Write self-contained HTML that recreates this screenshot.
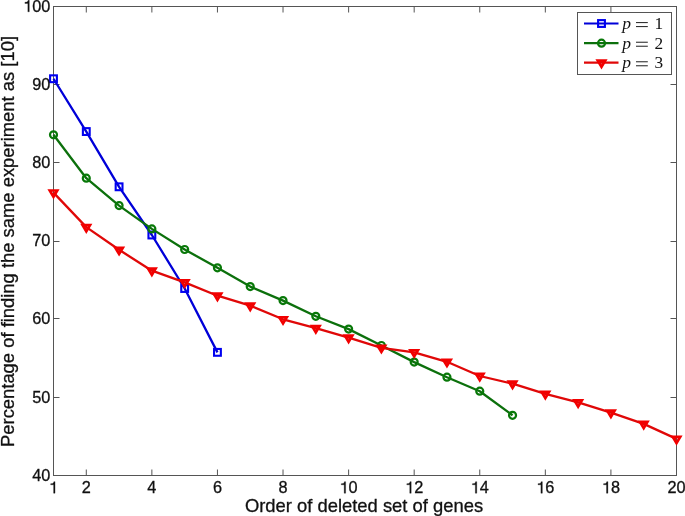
<!DOCTYPE html>
<html><head><meta charset="utf-8"><style>
html,body{margin:0;padding:0;background:#fff;}
svg{display:block;will-change:transform;}
text{font-family:"Liberation Sans",sans-serif;fill:#111;stroke:#111;stroke-width:0.3px;}
</style></head><body>
<svg width="685" height="516" viewBox="0 0 685 516">
<rect width="685" height="516" fill="#fff"/>
<rect x="53.5" y="6.5" width="623" height="469" fill="none" stroke="#555" stroke-width="1"/>
<line x1="53.5" y1="475.5" x2="53.5" y2="469.5" stroke="#555"/>
<line x1="53.5" y1="6.5" x2="53.5" y2="12.5" stroke="#555"/>
<line x1="86.29" y1="475.5" x2="86.29" y2="469.5" stroke="#555"/>
<line x1="86.29" y1="6.5" x2="86.29" y2="12.5" stroke="#555"/>
<line x1="151.87" y1="475.5" x2="151.87" y2="469.5" stroke="#555"/>
<line x1="151.87" y1="6.5" x2="151.87" y2="12.5" stroke="#555"/>
<line x1="217.45" y1="475.5" x2="217.45" y2="469.5" stroke="#555"/>
<line x1="217.45" y1="6.5" x2="217.45" y2="12.5" stroke="#555"/>
<line x1="283.03" y1="475.5" x2="283.03" y2="469.5" stroke="#555"/>
<line x1="283.03" y1="6.5" x2="283.03" y2="12.5" stroke="#555"/>
<line x1="348.61" y1="475.5" x2="348.61" y2="469.5" stroke="#555"/>
<line x1="348.61" y1="6.5" x2="348.61" y2="12.5" stroke="#555"/>
<line x1="414.18" y1="475.5" x2="414.18" y2="469.5" stroke="#555"/>
<line x1="414.18" y1="6.5" x2="414.18" y2="12.5" stroke="#555"/>
<line x1="479.76" y1="475.5" x2="479.76" y2="469.5" stroke="#555"/>
<line x1="479.76" y1="6.5" x2="479.76" y2="12.5" stroke="#555"/>
<line x1="545.34" y1="475.5" x2="545.34" y2="469.5" stroke="#555"/>
<line x1="545.34" y1="6.5" x2="545.34" y2="12.5" stroke="#555"/>
<line x1="610.92" y1="475.5" x2="610.92" y2="469.5" stroke="#555"/>
<line x1="610.92" y1="6.5" x2="610.92" y2="12.5" stroke="#555"/>
<line x1="676.5" y1="475.5" x2="676.5" y2="469.5" stroke="#555"/>
<line x1="676.5" y1="6.5" x2="676.5" y2="12.5" stroke="#555"/>
<line x1="53.5" y1="475.5" x2="59.5" y2="475.5" stroke="#555"/>
<line x1="676.5" y1="475.5" x2="670.5" y2="475.5" stroke="#555"/>
<line x1="53.5" y1="397.5" x2="59.5" y2="397.5" stroke="#555"/>
<line x1="676.5" y1="397.5" x2="670.5" y2="397.5" stroke="#555"/>
<line x1="53.5" y1="318.5" x2="59.5" y2="318.5" stroke="#555"/>
<line x1="676.5" y1="318.5" x2="670.5" y2="318.5" stroke="#555"/>
<line x1="53.5" y1="241.5" x2="59.5" y2="241.5" stroke="#555"/>
<line x1="676.5" y1="241.5" x2="670.5" y2="241.5" stroke="#555"/>
<line x1="53.5" y1="162.5" x2="59.5" y2="162.5" stroke="#555"/>
<line x1="676.5" y1="162.5" x2="670.5" y2="162.5" stroke="#555"/>
<line x1="53.5" y1="84.5" x2="59.5" y2="84.5" stroke="#555"/>
<line x1="676.5" y1="84.5" x2="670.5" y2="84.5" stroke="#555"/>
<line x1="53.5" y1="6.5" x2="59.5" y2="6.5" stroke="#555"/>
<line x1="676.5" y1="6.5" x2="670.5" y2="6.5" stroke="#555"/>
<polyline points="53.5,78.75 86.29,131.55 119.08,186.8 151.87,235 184.66,288.5 217.45,352.35" fill="none" stroke="#0000d8" stroke-width="2.3" stroke-linejoin="round"/>
<rect x="50.1" y="75.35" width="6.8" height="6.8" fill="none" stroke="#0000f0" stroke-width="2.1"/>
<rect x="82.89" y="128.15" width="6.8" height="6.8" fill="none" stroke="#0000f0" stroke-width="2.1"/>
<rect x="115.68" y="183.4" width="6.8" height="6.8" fill="none" stroke="#0000f0" stroke-width="2.1"/>
<rect x="148.47" y="231.6" width="6.8" height="6.8" fill="none" stroke="#0000f0" stroke-width="2.1"/>
<rect x="181.26" y="285.1" width="6.8" height="6.8" fill="none" stroke="#0000f0" stroke-width="2.1"/>
<rect x="214.05" y="348.95" width="6.8" height="6.8" fill="none" stroke="#0000f0" stroke-width="2.1"/>
<polyline points="53.5,134.8 86.29,178.2 119.08,205.6 151.87,228.9 184.66,249.5 217.45,267.8 250.24,286.6 283.03,300.6 315.82,316.3 348.61,329.1 381.39,345.5 414.18,362.1 446.97,377.2 479.76,391.2 512.55,415.3" fill="none" stroke="#0c700c" stroke-width="2.3" stroke-linejoin="round"/>
<circle cx="53.5" cy="134.8" r="3.5" fill="none" stroke="#087808" stroke-width="2.2"/>
<circle cx="86.29" cy="178.2" r="3.5" fill="none" stroke="#087808" stroke-width="2.2"/>
<circle cx="119.08" cy="205.6" r="3.5" fill="none" stroke="#087808" stroke-width="2.2"/>
<circle cx="151.87" cy="228.9" r="3.5" fill="none" stroke="#087808" stroke-width="2.2"/>
<circle cx="184.66" cy="249.5" r="3.5" fill="none" stroke="#087808" stroke-width="2.2"/>
<circle cx="217.45" cy="267.8" r="3.5" fill="none" stroke="#087808" stroke-width="2.2"/>
<circle cx="250.24" cy="286.6" r="3.5" fill="none" stroke="#087808" stroke-width="2.2"/>
<circle cx="283.03" cy="300.6" r="3.5" fill="none" stroke="#087808" stroke-width="2.2"/>
<circle cx="315.82" cy="316.3" r="3.5" fill="none" stroke="#087808" stroke-width="2.2"/>
<circle cx="348.61" cy="329.1" r="3.5" fill="none" stroke="#087808" stroke-width="2.2"/>
<circle cx="381.39" cy="345.5" r="3.5" fill="none" stroke="#087808" stroke-width="2.2"/>
<circle cx="414.18" cy="362.1" r="3.5" fill="none" stroke="#087808" stroke-width="2.2"/>
<circle cx="446.97" cy="377.2" r="3.5" fill="none" stroke="#087808" stroke-width="2.2"/>
<circle cx="479.76" cy="391.2" r="3.5" fill="none" stroke="#087808" stroke-width="2.2"/>
<circle cx="512.55" cy="415.3" r="3.5" fill="none" stroke="#087808" stroke-width="2.2"/>
<polyline points="53.5,192.6 86.29,227.1 119.08,249.8 151.87,270.7 184.66,282.4 217.45,295.7 250.24,305.7 283.03,319.3 315.82,328.1 348.61,337.7 381.39,347.8 414.18,352.3 446.97,361.8 479.76,376 512.55,383.7 545.34,393.9 578.13,402.4 610.92,412.7 643.71,423.9 676.5,438.9" fill="none" stroke="#e00808" stroke-width="2.3" stroke-linejoin="round"/>
<path d="M47.4,189.2 L59.6,189.2 L53.5,199.4Z M52.16,191.85 L53.5,194.1 L54.84,191.85Z" fill="#f20000" fill-rule="evenodd"/>
<path d="M80.19,223.7 L92.39,223.7 L86.29,233.9Z M84.95,226.35 L86.29,228.6 L87.63,226.35Z" fill="#f20000" fill-rule="evenodd"/>
<path d="M112.98,246.4 L125.18,246.4 L119.08,256.6Z M117.74,249.05 L119.08,251.3 L120.42,249.05Z" fill="#f20000" fill-rule="evenodd"/>
<path d="M145.77,267.3 L157.97,267.3 L151.87,277.5Z M150.53,269.95 L151.87,272.2 L153.21,269.95Z" fill="#f20000" fill-rule="evenodd"/>
<path d="M178.56,279 L190.76,279 L184.66,289.2Z M183.32,281.65 L184.66,283.9 L186,281.65Z" fill="#f20000" fill-rule="evenodd"/>
<path d="M211.35,292.3 L223.55,292.3 L217.45,302.5Z M216.11,294.95 L217.45,297.2 L218.79,294.95Z" fill="#f20000" fill-rule="evenodd"/>
<path d="M244.14,302.3 L256.34,302.3 L250.24,312.5Z M248.89,304.95 L250.24,307.2 L251.58,304.95Z" fill="#f20000" fill-rule="evenodd"/>
<path d="M276.93,315.9 L289.13,315.9 L283.03,326.1Z M281.68,318.55 L283.03,320.8 L284.37,318.55Z" fill="#f20000" fill-rule="evenodd"/>
<path d="M309.72,324.7 L321.92,324.7 L315.82,334.9Z M314.47,327.35 L315.82,329.6 L317.16,327.35Z" fill="#f20000" fill-rule="evenodd"/>
<path d="M342.51,334.3 L354.71,334.3 L348.61,344.5Z M347.26,336.95 L348.61,339.2 L349.95,336.95Z" fill="#f20000" fill-rule="evenodd"/>
<path d="M375.29,344.4 L387.49,344.4 L381.39,354.6Z M380.05,347.05 L381.39,349.3 L382.74,347.05Z" fill="#f20000" fill-rule="evenodd"/>
<path d="M408.08,348.9 L420.28,348.9 L414.18,359.1Z M412.84,351.55 L414.18,353.8 L415.53,351.55Z" fill="#f20000" fill-rule="evenodd"/>
<path d="M440.87,358.4 L453.07,358.4 L446.97,368.6Z M445.63,361.05 L446.97,363.3 L448.32,361.05Z" fill="#f20000" fill-rule="evenodd"/>
<path d="M473.66,372.6 L485.86,372.6 L479.76,382.8Z M478.42,375.25 L479.76,377.5 L481.11,375.25Z" fill="#f20000" fill-rule="evenodd"/>
<path d="M506.45,380.3 L518.65,380.3 L512.55,390.5Z M511.21,382.95 L512.55,385.2 L513.89,382.95Z" fill="#f20000" fill-rule="evenodd"/>
<path d="M539.24,390.5 L551.44,390.5 L545.34,400.7Z M544,393.15 L545.34,395.4 L546.68,393.15Z" fill="#f20000" fill-rule="evenodd"/>
<path d="M572.03,399 L584.23,399 L578.13,409.2Z M576.79,401.65 L578.13,403.9 L579.47,401.65Z" fill="#f20000" fill-rule="evenodd"/>
<path d="M604.82,409.3 L617.02,409.3 L610.92,419.5Z M609.58,411.95 L610.92,414.2 L612.26,411.95Z" fill="#f20000" fill-rule="evenodd"/>
<path d="M637.61,420.5 L649.81,420.5 L643.71,430.7Z M642.37,423.15 L643.71,425.4 L645.05,423.15Z" fill="#f20000" fill-rule="evenodd"/>
<path d="M670.4,435.5 L682.6,435.5 L676.5,445.7Z M675.16,438.15 L676.5,440.4 L677.84,438.15Z" fill="#f20000" fill-rule="evenodd"/>
<g font-size="16.3">
<path d="M55.03,493.2 L55.03,481.64 L53.86,481.64 L53.61,482.52 L52.8,483.42 L50.68,483.66 L50.68,484.81 L53.61,484.81 L53.61,493.2Z" fill="#111" stroke="#111" stroke-width="0.3"/>
<text x="81.76" y="493.2">2</text>
<text x="147.34" y="493.2">4</text>
<text x="212.92" y="493.2">6</text>
<text x="278.49" y="493.2">8</text>
<path d="M345.61,493.2 L345.61,481.64 L344.43,481.64 L344.19,482.52 L343.37,483.42 L341.25,483.66 L341.25,484.81 L344.19,484.81 L344.19,493.2Z" fill="#111" stroke="#111" stroke-width="0.3"/>
<text x="348.61" y="493.2">0</text>
<path d="M411.19,493.2 L411.19,481.64 L410.01,481.64 L409.77,482.52 L408.95,483.42 L406.83,483.66 L406.83,484.81 L409.77,484.81 L409.77,493.2Z" fill="#111" stroke="#111" stroke-width="0.3"/>
<text x="414.18" y="493.2">2</text>
<path d="M476.76,493.2 L476.76,481.64 L475.59,481.64 L475.35,482.52 L474.53,483.42 L472.41,483.66 L472.41,484.81 L475.35,484.81 L475.35,493.2Z" fill="#111" stroke="#111" stroke-width="0.3"/>
<text x="479.76" y="493.2">4</text>
<path d="M542.34,493.2 L542.34,481.64 L541.17,481.64 L540.92,482.52 L540.11,483.42 L537.99,483.66 L537.99,484.81 L540.92,484.81 L540.92,493.2Z" fill="#111" stroke="#111" stroke-width="0.3"/>
<text x="545.34" y="493.2">6</text>
<path d="M607.92,493.2 L607.92,481.64 L606.75,481.64 L606.5,482.52 L605.69,483.42 L603.57,483.66 L603.57,484.81 L606.5,484.81 L606.5,493.2Z" fill="#111" stroke="#111" stroke-width="0.3"/>
<text x="610.92" y="493.2">8</text>
<text x="667.44" y="493.2">2</text>
<text x="676.5" y="493.2">0</text>
<text x="32.27" y="480.8">4</text>
<text x="41.34" y="480.8">0</text>
<text x="32.27" y="402.63">5</text>
<text x="41.34" y="402.63">0</text>
<text x="32.27" y="324.47">6</text>
<text x="41.34" y="324.47">0</text>
<text x="32.27" y="246.3">7</text>
<text x="41.34" y="246.3">0</text>
<text x="32.27" y="168.13">8</text>
<text x="41.34" y="168.13">0</text>
<text x="32.27" y="89.97">9</text>
<text x="41.34" y="89.97">0</text>
<path d="M29.28,11.8 L29.28,0.24 L28.1,0.24 L27.86,1.12 L27.04,2.02 L24.92,2.26 L24.92,3.41 L27.86,3.41 L27.86,11.8Z" fill="#111" stroke="#111" stroke-width="0.3"/>
<text x="32.27" y="11.8">0</text>
<text x="41.34" y="11.8">0</text>
</g>
<text x="364" y="512" text-anchor="middle" font-size="18.4">Order of deleted set of genes</text>
<text transform="translate(14,241.5) rotate(-90)" text-anchor="middle" font-size="18.4">Percentage of finding the same experiment as [10]</text>
<rect x="577.5" y="12.5" width="94" height="62" fill="#fff" stroke="#555" stroke-width="1"/>
<line x1="584" y1="23.5" x2="618.5" y2="23.5" stroke="#0000d8" stroke-width="2.2"/>
<rect x="598.1" y="20.1" width="6.8" height="6.8" fill="none" stroke="#0000f0" stroke-width="2.1"/>
<text x="622.3" y="28.8" style="stroke:none;font-family:Liberation Serif,serif;font-style:italic;font-size:17.5px">p</text>
<rect x="636" y="22" width="11.8" height="1.1" fill="#333"/>
<rect x="636" y="26" width="11.8" height="1.1" fill="#333"/>
<text x="654.4" y="28.8" style="stroke:none;font-family:Liberation Serif,serif;font-size:17.3px">1</text>
<line x1="584" y1="43.2" x2="618.5" y2="43.2" stroke="#0c700c" stroke-width="2.2"/>
<circle cx="601.5" cy="43.2" r="3.5" fill="none" stroke="#087808" stroke-width="2.2"/>
<text x="622.3" y="48.5" style="stroke:none;font-family:Liberation Serif,serif;font-style:italic;font-size:17.5px">p</text>
<rect x="636" y="41.7" width="11.8" height="1.1" fill="#333"/>
<rect x="636" y="45.7" width="11.8" height="1.1" fill="#333"/>
<text x="654.4" y="48.5" style="stroke:none;font-family:Liberation Serif,serif;font-size:17.3px">2</text>
<line x1="584" y1="62.7" x2="618.5" y2="62.7" stroke="#e00808" stroke-width="2.2"/>
<path d="M595.4,59.3 L607.6,59.3 L601.5,69.5Z M600.16,61.95 L601.5,64.2 L602.84,61.95Z" fill="#f20000" fill-rule="evenodd"/>
<text x="622.3" y="68" style="stroke:none;font-family:Liberation Serif,serif;font-style:italic;font-size:17.5px">p</text>
<rect x="636" y="61.2" width="11.8" height="1.1" fill="#333"/>
<rect x="636" y="65.2" width="11.8" height="1.1" fill="#333"/>
<text x="654.4" y="68" style="stroke:none;font-family:Liberation Serif,serif;font-size:17.3px">3</text>
</svg>
</body></html>
